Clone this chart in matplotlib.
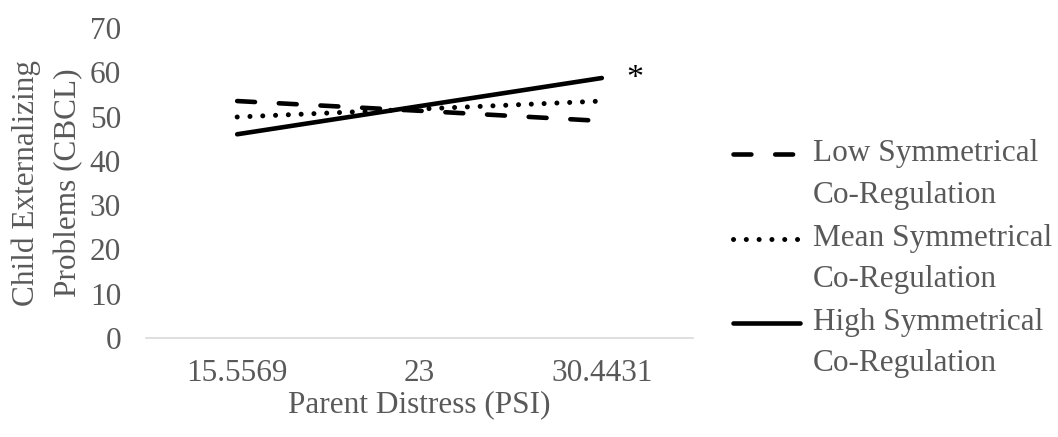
import matplotlib.pyplot as plt
import numpy as np
from matplotlib.legend_handler import HandlerLine2D

# simple slopes: child externalizing by parent distress at three co-regulation levels
psi_levels = ['15.5569', '23', '30.4431']
low_coreg = [53.5, 51.3, 49.0]
mean_coreg = [49.9, 51.7, 53.5]
high_coreg = [46.0, 52.35, 58.7]
series_labels = ['Low Symmetrical\nCo-Regulation',
                 'Mean Symmetrical\nCo-Regulation',
                 'High Symmetrical\nCo-Regulation']

plt.rcParams['font.family'] = ['Liberation Serif', 'DejaVu Serif']
text_color = '#595959'
fs = 22.5


class FirstLineHandler(HandlerLine2D):
    """Legend line drawn level with the first row of a two-line label."""

    def __init__(self, shift, **kw):
        super().__init__(**kw)
        self.shift = shift

    def create_artists(self, legend, orig_handle, xdescent, ydescent,
                       width, height, fontsize, trans):
        artists = super().create_artists(legend, orig_handle, xdescent,
                                         ydescent, width, height, fontsize,
                                         trans)
        for a in artists:
            a.set_ydata(np.asarray(a.get_ydata()) + self.shift)
        return artists


fig = plt.figure(figsize=(10.58, 4.37), dpi=100)
ax = fig.add_axes([0.138, 0.2265, 0.517, 0.7095])

x = range(len(psi_levels))
lw = 3.3
lines = []
lines += ax.plot(x, low_coreg, color='black', lw=lw, dashes=(3.9, 5.2),
                 dash_capstyle='round', label=series_labels[0])
lines += ax.plot(x, mean_coreg, color='black', lw=lw + 0.3, dashes=(0.01, 2.55),
                 dash_capstyle='round', label=series_labels[1])
lines += ax.plot(x, high_coreg, color='black', lw=lw, solid_capstyle='round',
                 label=series_labels[2])

# significance marker for the high co-regulation slope
ax.annotate('*', xy=(2, high_coreg[-1]), xytext=(24, -0.8),
            textcoords='offset points', ha='center', va='center',
            fontsize=fs + 2, color='black')

ax.set_xlim(-0.5, 2.5)
ax.set_ylim(0, 70)
ax.set_yticks(range(0, 71, 10))
ax.set_xticks(list(x))
ax.set_xticklabels(psi_levels)

for side in ['top', 'right', 'left']:
    ax.spines[side].set_visible(False)
ax.spines['bottom'].set_color('#d9d9d9')
ax.spines['bottom'].set_linewidth(1.2)
ax.tick_params(axis='both', length=0, labelsize=fs, labelcolor=text_color)
ax.tick_params(axis='y', pad=18)
ax.tick_params(axis='x', pad=15)

ax.set_xlabel('Parent Distress (PSI)', fontsize=fs, color=text_color, labelpad=2)
ax.set_ylabel('Child Externalizing\nProblems (CBCL)', fontsize=fs,
              color=text_color, labelpad=5, linespacing=1.55)

handler = FirstLineHandler(shift=14.5)
leg = fig.legend(loc='upper left', bbox_to_anchor=(0.693, 0.681), frameon=False,
                 fontsize=fs, labelcolor=text_color, handlelength=2.15,
                 handletextpad=0.4, borderpad=0, borderaxespad=0,
                 labelspacing=0.45,
                 handler_map={ln: handler for ln in lines})
for t in leg.get_texts():
    t.set_linespacing(1.55)

fig.savefig('out.png', dpi=100)
